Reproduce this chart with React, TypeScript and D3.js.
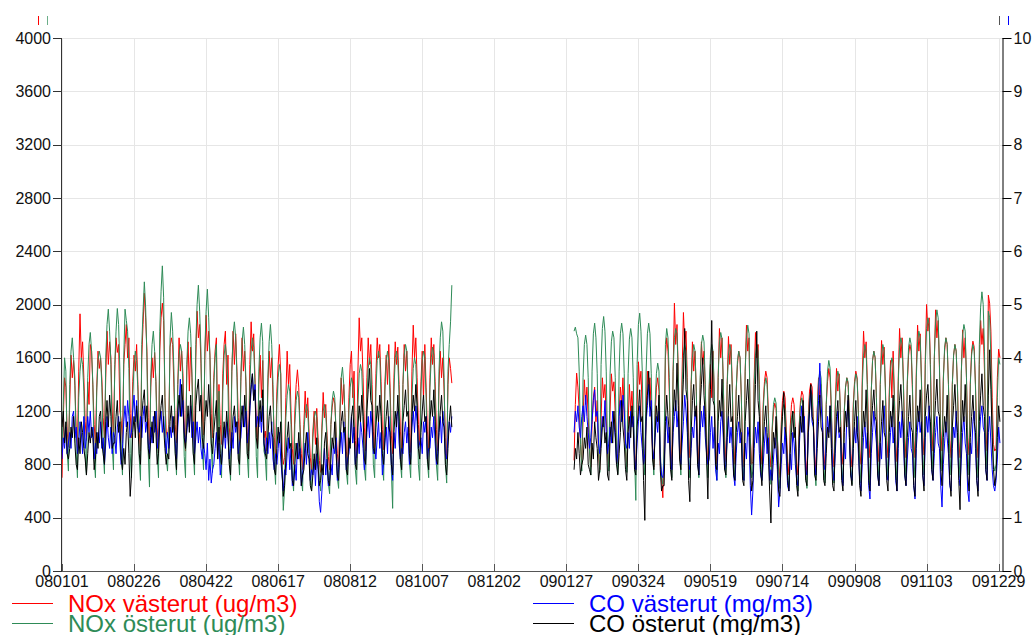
import React from "react";
import * as d3 from "d3";

// ---- axis ticks ----
const tickLabels = ["080101","080226","080422","080617","080812","081007","081202","090127","090324","090519","090714","090908","091103","091229"];
const leftTicks = [0,400,800,1200,1600,2000,2400,2800,3200,3600,4000];
const rightTicks = [0,1,2,3,4,5,6,7,8,9,10];
const domainDates = ["080101","100101"];
// daily series, two measurement periods
const segmentStarts = ["080101","090202"];

// NOx västerut (ug/m3)
const noxWestA = [
700,1150,1450,1380,1050,930,
1250,1620,1450,1580,1390,1080,920,
1500,1930,1600,1720,1450,1120,980,
1420,1250,1700,1650,1380,1100,950,
1380,1650,1520,1600,1440,1150,1000,
1450,1800,1550,1720,1600,1200,1020,
1500,1750,1640,1700,1200,1130,960,
1550,1700,1850,1600,1750,1180,1000,
1420,1620,1500,1700,1400,1050,900,
1600,1850,2085,1900,1650,1150,950,
1380,1600,1450,1640,1420,1080,880,
1650,1900,2010,1880,1300,1050,1000,
1100,1680,1750,1700,1380,1100,960,
1400,1750,1500,1650,1480,1080,900,
1500,1720,1350,1680,1450,1120,950,
1600,1950,1750,1850,1560,1200,1020,
1580,1920,1650,1800,1620,1180,1000,
1450,1650,1750,1000,1400,1100,950,
1480,1700,1800,1400,1620,1080,940,
1500,1800,1550,1780,1500,1150,960,
1420,1750,1500,1650,1380,1050,900,
1550,1870,1650,1780,1450,1100,950,
1400,1620,1300,1580,1000,1050,900,
1380,1650,1450,1600,1300,1000,850,
1350,1550,1700,1480,900,800,850,
1300,1650,1400,1550,1200,920,800,
1200,1400,1510,1380,1100,880,760,
1100,1350,1150,1300,1050,850,750,
1050,1200,950,1220,1000,830,740,
1080,1340,1150,1250,1020,860,760,
1100,1230,1300,1260,1050,880,780,
1150,1450,1250,1400,1150,900,800,
1300,1550,1650,1300,1500,980,850,
1500,1900,1650,1750,1450,1080,900,
1450,1750,1550,1700,1400,1050,900,
1480,1750,1600,1700,1420,1060,910,
1420,1620,1400,1700,1380,1020,880,
1450,1720,1550,1680,1400,1050,900,
1400,1700,1500,1650,1380,1040,890,
1500,1845,1600,1750,1450,1100,950,
1420,1650,1300,1700,1380,1050,900,
1450,1750,1550,1700,1420,1060,900,
1380,1650,1450,1600,1350,1000,850,
1400,1600,1520,1410];
const noxWestB = [
830,1250,1485,1380,1200,950,800,
1150,1435,1250,1380,1150,900,780,
1100,1300,1380,1120,1280,880,760,
1150,1450,1300,1400,1150,900,780,
1200,1480,1350,1420,1180,920,800,
1180,1380,1250,1450,1150,900,780,
1100,1400,1200,1350,1120,880,760,
1250,1570,1400,1500,1200,920,800,
1200,1500,1350,1450,1180,900,780,
1150,1380,1450,1350,800,700,550,
900,1600,1750,1650,1350,950,800,
1500,2010,1700,1850,1500,1000,850,
1500,1940,1700,1800,1450,1000,850,
1400,1720,1500,1650,1350,950,800,
1380,1720,1550,1650,1350,950,800,
1350,1550,1300,1650,1300,920,800,
1450,1820,1600,1750,1400,980,820,
1400,1760,1550,1700,1380,950,800,
1350,1550,1650,1600,1300,920,780,
1500,1845,1650,1750,1000,800,820,
1450,1790,1600,1700,1400,950,800,
1250,1420,1500,1450,1200,900,780,
1050,1200,1260,1220,1000,800,700,
1100,1280,1350,1300,1050,820,720,
1080,1250,1300,1250,1020,810,720,
1100,1280,1350,1320,1080,830,740,
1150,1350,1410,1380,1120,860,760,
1200,1450,1300,1400,1150,880,780,
1250,1420,1520,1450,1180,890,780,
1250,1520,1350,1480,1200,900,800,
1200,1380,1450,1400,1150,880,780,
1250,1420,1500,1450,1200,900,800,
1450,1800,1600,1720,1400,980,850,
1350,1580,1650,1600,1300,950,820,
1400,1730,1550,1680,1380,980,850,
1350,1580,1300,1650,1320,950,820,
1450,1820,1600,1750,1420,1000,850,
1400,1620,1700,1650,1350,980,850,
1500,1845,1650,1780,1450,1000,870,
1600,2000,1800,1900,1550,1050,900,
1580,1960,1750,1880,1520,1050,900,
1450,1650,1750,1700,1400,980,850,
1400,1620,1700,1650,1380,970,850,
1480,1810,1600,1750,1450,1000,870,
1420,1650,1725,1680,1400,980,850,
1550,1880,1700,1820,1500,1050,900,
2070,2010,1800,1300,950,900,920,
1450,1665,1600];

// NOx österut (ug/m3)
const noxEastA = [
900,1250,1600,1500,900,750,
1400,1650,1750,1600,1450,900,700,
1300,1500,1600,1550,1350,880,720,
1450,1700,1790,1650,1400,850,700,
1350,1580,1650,1600,1380,900,730,
1600,1850,1965,1800,1550,950,760,
1550,1800,1970,1850,1500,900,720,
1600,1965,1880,1800,1520,880,700,
1300,1550,1650,1580,1350,850,680,
1700,1950,2170,1980,1600,900,630,
1450,1700,1800,1650,1420,880,700,
1800,2100,2290,2050,1300,850,750,
1000,1750,1940,1800,1500,900,720,
1400,1620,1700,1650,1380,860,700,
1550,1800,1900,1780,1500,900,720,
1700,2000,2145,1950,1650,950,760,
1650,1950,2115,1900,1600,920,740,
1400,1600,1700,900,1350,850,700,
1350,1620,1700,1600,1380,840,680,
1500,1780,1870,1750,1450,900,720,
1450,1720,1830,1700,1420,870,700,
1400,1650,1750,1680,1400,860,700,
1500,1750,1860,1720,900,850,680,
1450,1720,1850,1700,1400,820,650,
1250,1450,1550,1480,800,455,620,
1150,1320,1400,1350,1100,720,600,
1100,1280,1350,1300,1050,700,600,
1050,1180,1250,1200,980,680,600,
1000,1150,1200,1150,950,680,600,
1050,1200,1250,1180,980,660,580,
1100,1280,1350,1300,1050,700,620,
1200,1450,1530,1400,1150,750,650,
1200,1380,1450,1400,1150,760,650,
1250,1480,1550,1500,1200,780,680,
1300,1520,1600,1550,1250,800,700,
1350,1580,1650,1600,1300,800,680,
1350,1580,1650,1580,1300,750,470,
1350,1600,1650,1580,1320,820,700,
1400,1620,1700,1650,1350,830,700,
1300,1520,1600,1550,1280,800,680,
1350,1580,1650,1600,1300,820,700,
1380,1600,1680,1620,1320,800,680,
1500,1750,1870,1800,1450,800,660,
1500,1700,1870,2145];
const noxEastB = [
1800,1830,1780,1750,1500,950,750,
1450,1700,1770,1700,1450,900,720,
1500,1780,1860,1750,1480,920,740,
1550,1820,1910,1800,1500,930,750,
1480,1720,1800,1750,1450,900,730,
1500,1780,1860,1780,1480,920,740,
1480,1740,1820,1750,1450,850,530,
1550,1850,1935,1800,1500,900,720,
1500,1780,1860,1780,1480,900,720,
1250,1480,1560,1500,900,700,650,
950,1700,1820,1750,1450,880,700,
1500,1750,1820,1780,1480,900,720,
1400,1620,1700,1650,1380,870,700,
1400,1600,1700,1650,1350,860,700,
1450,1700,1770,1720,1400,880,700,
1400,1620,1700,1650,1350,850,680,
1450,1720,1790,1740,1420,870,700,
1400,1620,1700,1650,1350,850,680,
1350,1580,1650,1600,1320,840,680,
1500,1750,1845,1780,1000,700,750,
1400,1620,1700,1650,1350,850,680,
1200,1380,1450,1400,1150,800,650,
1080,1250,1300,1260,1020,750,620,
1050,1200,1250,1220,1000,740,620,
1000,1150,1200,1180,980,720,600,
1080,1250,1300,1260,1030,750,620,
1100,1300,1350,1320,1080,770,640,
1200,1420,1500,1450,1180,800,660,
1250,1500,1580,1520,1220,800,660,
1200,1420,1500,1460,1180,800,660,
1180,1380,1450,1420,1150,790,650,
1200,1400,1480,1440,1170,800,660,
1380,1620,1700,1650,1350,820,645,
1350,1580,1650,1600,1300,840,680,
1400,1620,1700,1650,1350,860,700,
1300,1520,1600,1560,1280,830,680,
1420,1680,1750,1700,1400,870,700,
1420,1680,1750,1700,1400,870,700,
1450,1720,1800,1750,1420,880,720,
1550,1820,1900,1850,1500,920,740,
1600,1870,1960,1900,1550,930,750,
1420,1680,1750,1700,1400,880,720,
1400,1620,1700,1650,1380,870,700,
1500,1770,1850,1800,1450,900,720,
1400,1620,1700,1650,1380,870,700,
1700,1980,2095,2000,1650,950,760,
1950,1900,1600,1100,800,750,800,
1300,1600,1550];

// CO västerut (mg/m3)
const coWestA = [
2.1,2.5,2.3,2.7,2.2,2.4,
2.6,2.3,2.9,3.0,2.5,2.7,2.2,
2.4,2.8,2.6,2.2,2.9,2.3,2.5,
2.9,2.6,3.0,2.5,2.7,2.1,2.4,
2.2,2.6,2.4,2.8,2.3,2.5,2.0,
2.4,2.9,2.5,2.3,2.7,2.2,2.6,
2.5,2.2,2.7,2.9,2.4,2.0,2.3,
2.8,3.1,2.7,3.2,2.9,2.5,2.6,
3.0,3.3,2.8,3.2,2.7,2.6,2.9,
2.5,2.9,3.1,2.6,2.8,2.4,2.2,
2.7,2.4,2.9,2.6,3.0,2.3,2.5,
2.8,3.0,2.6,2.9,2.5,2.2,2.6,
2.3,2.7,2.5,2.9,2.6,2.4,2.1,
2.7,3.1,3.6,2.9,3.2,2.6,2.4,
2.6,2.9,2.7,3.1,2.5,2.8,2.2,
2.5,2.8,2.4,2.7,2.3,2.1,2.4,
2.2,1.9,2.4,1.7,2.1,1.65,1.9,
2.0,2.3,2.6,2.1,2.4,1.8,2.0,
2.4,2.7,2.3,2.8,2.5,2.1,2.3,
2.6,2.3,2.9,2.6,2.8,2.2,2.4,
2.5,2.9,3.1,2.7,3.0,2.4,2.6,
3.0,3.4,3.7,3.2,3.5,2.7,2.9,
2.7,3.0,2.6,3.1,2.4,2.2,2.5,
2.2,2.6,2.3,2.8,2.1,1.9,2.2,
2.0,2.3,2.6,2.1,1.8,1.5,1.9,
1.8,2.2,2.5,1.9,2.3,1.6,1.7,
2.0,1.7,2.4,2.1,2.3,1.6,1.8,
2.1,2.4,2.0,2.6,2.2,1.7,1.9,
1.8,2.1,1.6,2.2,1.9,1.3,1.1,
1.5,1.9,2.3,1.8,2.1,1.6,1.7,
2.0,1.8,2.4,2.2,2.5,1.7,1.9,
2.3,2.6,2.2,2.8,2.4,1.9,2.1,
2.2,2.5,2.9,2.4,2.7,2.0,2.2,
2.5,2.2,2.8,2.6,2.3,1.9,2.1,
2.6,2.9,2.5,3.0,2.7,2.2,2.3,
2.1,2.5,2.8,2.3,2.6,1.8,2.0,
2.4,2.7,2.2,2.9,2.5,2.0,1.7,
2.6,2.3,2.9,3.0,2.4,2.1,2.3,
2.2,2.6,2.8,2.4,2.7,2.0,2.1,
2.7,3.0,2.6,3.1,2.8,2.3,2.4,
2.5,2.2,2.8,2.6,2.9,2.1,2.3,
2.3,2.7,2.5,2.9,2.4,2.0,2.2,
2.6,2.9,2.4,3.0,2.7,2.2,2.1,
2.5,2.8,2.6,2.9];
const coWestB = [
2.6,3.0,2.8,3.1,2.7,2.5,2.9,
3.1,2.8,3.3,2.9,2.6,2.3,2.5,
2.8,3.2,3.4,2.9,3.0,2.4,2.2,
2.5,2.9,2.7,3.2,2.6,2.2,2.4,
2.7,2.4,3.0,2.8,2.5,2.0,2.2,
2.9,3.2,2.8,3.3,3.0,2.4,2.3,
2.6,2.3,3.0,2.7,2.9,2.1,1.9,
2.4,2.8,3.1,2.6,2.3,2.0,2.2,
2.8,3.1,3.5,2.9,3.2,2.3,2.1,
2.5,2.9,2.6,3.0,2.1,1.8,1.75,
2.0,2.6,2.9,2.4,2.7,2.1,1.9,
2.6,2.9,3.2,2.7,3.0,2.2,2.0,
2.4,2.8,3.3,3.0,2.6,2.0,1.9,
2.3,2.7,2.5,3.0,2.8,2.1,1.8,
2.6,3.0,2.7,3.1,2.5,2.2,2.0,
2.1,2.6,2.9,2.3,2.7,1.9,1.7,
2.4,2.2,2.8,3.0,2.5,1.9,2.0,
2.5,2.9,2.4,2.7,2.3,1.8,1.6,
2.2,2.6,2.8,2.4,2.6,1.8,1.7,
2.4,2.1,2.7,2.5,1.6,1.05,1.5,
2.3,2.7,2.4,2.8,2.2,1.8,1.7,
2.0,2.4,2.7,2.2,2.5,1.7,1.9,
1.7,2.1,2.5,2.3,1.9,1.2,1.5,
2.0,2.4,2.2,2.7,2.1,1.6,1.5,
2.2,1.9,2.6,2.4,2.0,1.7,1.6,
2.3,2.8,3.1,2.6,2.9,1.9,1.8,
2.5,3.0,3.4,2.8,2.7,2.0,1.8,
2.7,3.2,3.9,3.1,2.8,2.0,1.9,
2.4,2.9,2.6,3.1,2.5,1.9,1.7,
2.2,2.7,3.0,2.5,2.6,1.8,1.6,
2.4,2.1,2.9,3.2,2.5,1.8,1.7,
2.3,2.7,2.4,2.9,2.2,1.7,1.5,
2.0,2.5,2.8,2.3,2.6,1.6,1.35,
2.2,2.6,3.0,2.7,2.4,1.8,1.6,
2.4,2.1,2.8,3.1,2.5,1.8,1.7,
2.2,2.6,2.9,2.4,2.7,1.7,1.5,
2.3,2.8,2.5,3.0,2.4,1.8,1.6,
2.1,2.5,2.8,2.3,2.2,1.6,1.35,
2.3,2.7,3.0,2.6,2.8,1.8,1.6,
2.5,2.9,2.6,3.1,2.4,1.9,1.7,
2.2,2.6,2.9,2.4,2.3,1.6,1.2,
2.0,2.4,2.8,2.5,2.2,1.6,1.5,
2.3,2.7,2.5,3.0,2.4,1.8,1.6,
2.1,2.6,2.9,2.4,2.2,1.5,1.3,
2.4,2.2,2.8,3.0,2.3,1.7,1.5,
2.5,2.9,3.1,2.7,2.6,1.9,1.7,
2.6,2.9,2.4,1.9,1.6,1.5,1.7,
2.1,2.7,2.4];

// CO österut (mg/m3)
const coEastA = [
2.7,3.0,2.4,2.8,2.2,2.1,
2.3,2.7,2.5,2.9,2.4,2.0,1.9,
2.5,2.2,2.8,2.6,2.3,2.1,1.8,
2.2,2.6,2.4,2.7,2.5,1.9,2.1,
2.6,2.3,2.9,3.0,2.4,2.2,2.0,
2.8,3.2,2.7,3.3,2.9,2.3,2.4,
2.4,2.9,3.2,2.6,2.8,2.1,1.9,
2.3,2.0,2.6,2.8,2.2,1.4,1.8,
2.6,2.9,2.5,3.1,2.7,2.2,2.0,
2.9,3.2,3.4,2.8,3.1,2.3,2.1,
2.5,2.8,2.4,3.0,2.6,2.0,2.2,
2.8,3.1,3.3,2.7,2.3,2.0,2.2,
2.1,2.8,3.1,2.6,2.9,2.2,1.9,
3.0,3.3,2.9,3.5,3.1,2.5,2.3,
2.7,3.1,2.6,3.3,2.8,2.2,2.0,
3.1,3.4,3.6,3.0,3.3,2.5,2.3,
2.8,3.2,2.9,3.5,3.0,2.4,2.2,
2.6,2.9,3.2,2.1,2.7,2.2,2.0,
2.4,2.8,2.5,3.0,2.6,2.0,1.8,
2.5,2.9,3.1,2.7,2.8,2.1,2.0,
2.8,3.1,2.7,3.3,2.9,2.2,2.1,
3.1,3.5,3.7,3.2,3.4,2.5,2.3,
2.9,3.2,2.8,3.4,2.4,2.2,2.1,
2.5,2.9,3.1,2.6,2.5,1.9,1.8,
2.3,2.7,2.4,2.8,1.9,1.4,1.6,
2.1,2.5,2.8,2.3,2.4,1.7,1.6,
2.0,2.4,2.1,2.6,2.2,1.6,1.8,
1.9,2.3,2.6,2.2,2.1,1.6,1.5,
1.8,2.2,1.9,2.5,2.0,1.6,1.7,
2.0,1.8,2.4,2.6,2.1,1.7,1.6,
2.1,2.5,2.3,2.8,2.2,1.8,1.7,
2.4,2.8,3.0,2.6,2.7,1.9,1.8,
2.5,2.3,2.9,3.1,2.6,2.0,1.9,
2.7,3.1,2.8,3.3,2.9,2.1,2.0,
3.0,3.4,3.8,3.2,3.1,2.3,2.2,
2.7,3.1,2.8,3.3,2.9,2.2,2.0,
2.5,2.9,3.2,2.7,2.6,2.0,1.8,
2.6,3.0,2.7,3.3,2.8,2.1,1.9,
2.8,3.1,3.4,2.9,3.0,2.2,2.0,
2.9,3.3,3.0,3.5,3.1,2.3,2.1,
2.6,3.0,3.3,2.8,2.9,2.1,1.9,
2.8,3.2,2.9,3.4,2.8,2.1,2.0,
2.6,3.0,3.3,2.8,2.7,2.0,1.8,
2.3,2.8,3.1,2.7];
const coEastB = [
1.9,2.3,2.1,2.6,2.2,1.8,2.0,
2.1,2.5,2.3,2.7,2.0,1.9,1.8,
2.4,2.1,2.8,2.5,2.3,1.7,1.9,
2.3,2.7,2.9,2.4,2.6,1.8,1.7,
2.5,2.8,2.4,3.0,2.6,2.0,1.8,
2.2,2.6,3.2,2.7,2.4,1.9,1.7,
2.6,2.9,2.5,3.1,2.7,1.9,1.8,
2.7,3.0,3.4,2.8,2.9,1.7,0.95,
2.9,3.3,3.75,3.1,3.0,2.1,1.9,
2.6,3.1,2.8,3.3,1.9,1.5,1.6,
1.6,2.8,3.3,2.9,2.6,1.9,1.7,
2.9,3.4,3.0,3.9,3.1,2.1,1.9,
3.0,3.6,4.55,3.4,3.2,1.7,1.3,
2.6,3.2,3.5,2.9,3.1,2.0,1.8,
3.1,3.5,4.0,3.3,2.9,2.1,1.35,
2.7,3.4,4.7,3.2,3.1,2.0,1.9,
2.8,3.2,2.9,3.6,2.7,1.9,1.8,
2.5,3.0,3.5,2.8,2.9,1.8,1.7,
2.6,2.9,3.3,2.7,2.5,1.7,1.6,
2.8,3.2,3.6,3.0,2.0,1.5,1.7,
2.7,3.5,4.5,3.2,2.9,1.9,1.6,
2.4,2.8,3.1,2.6,2.2,1.5,0.9,
2.0,2.6,2.3,2.9,2.1,1.5,1.4,
2.4,2.9,3.35,2.7,2.5,1.7,1.5,
2.2,2.6,3.0,2.5,2.7,1.6,1.4,
2.5,2.9,2.6,3.2,2.4,1.7,1.6,
2.6,3.0,3.5,2.9,2.8,1.8,1.7,
2.3,2.8,3.3,2.7,2.6,1.7,1.6,
2.2,2.7,2.5,3.1,2.3,1.6,1.5,
2.4,2.9,3.2,2.6,2.7,1.7,1.5,
2.6,3.0,2.7,3.3,2.5,1.8,1.6,
2.3,2.8,3.2,2.6,2.4,1.6,1.4,
2.5,3.0,2.7,3.4,2.6,1.7,1.5,
2.7,3.1,3.4,2.9,2.8,1.8,1.6,
2.4,2.8,3.2,2.6,2.5,1.7,1.5,
2.6,3.0,2.7,3.3,2.5,1.8,1.5,
2.8,3.2,3.5,3.0,2.7,1.8,1.6,
2.5,2.9,3.3,2.7,2.6,1.6,1.4,
2.6,3.1,2.8,3.4,2.7,1.8,1.5,
2.9,3.3,3.5,3.0,2.8,1.9,1.7,
2.7,3.2,3.6,3.0,2.9,1.9,1.6,
2.5,2.9,2.6,3.3,2.4,1.7,1.4,
2.7,3.1,3.5,2.9,2.6,1.7,1.15,
2.6,3.2,2.8,3.5,2.7,1.8,1.5,
2.5,2.9,3.3,2.8,2.6,1.7,1.4,
2.8,3.3,3.7,3.1,2.9,1.9,1.7,
3.3,4.15,3.4,2.5,1.9,1.6,1.8,
2.5,3.1,2.8];

const seriesNames = ["NOx västerut (ug/m3)","NOx österut (ug/m3)","CO västerut (mg/m3)","CO österut (mg/m3)"];
const seriesColors = ["#ff0000","#2e8b57","#0000ff","#000000"];

const FONT = "'Liberation Sans', Arial, Helvetica, sans-serif";

export default function App() {
  const W = 1034, H = 635;
  const left = 62, right = 1002.5, top = 38, bottom = 571;
  const parse = d3.utcParse("%y%m%d");
  const x = d3.scaleUtc().domain(domainDates.map((s) => parse(s) as Date)).range([left, right]);
  const yL = d3.scaleLinear().domain([0, 4000]).range([bottom, top]);
  const yR = d3.scaleLinear().domain([0, 10]).range([bottom, top]);
  const starts = segmentStarts.map((s) => parse(s) as Date);

  const series = [
    { segs: [noxWestA, noxWestB], y: yL, color: seriesColors[0] },
    { segs: [noxEastA, noxEastB], y: yL, color: seriesColors[1] },
    { segs: [coWestA, coWestB], y: yR, color: seriesColors[2] },
    { segs: [coEastA, coEastB], y: yR, color: seriesColors[3] },
  ];

  const paths: React.ReactNode[] = [];
  series.forEach((s, si) => {
    s.segs.forEach((vals, k) => {
      const st = starts[k];
      const line = d3
        .line<number>()
        .x((_, i) => x(d3.utcDay.offset(st, i)))
        .y((d) => s.y(d));
      paths.push(
        <path key={`${si}-${k}`} d={line(vals) || ""} fill="none" stroke={s.color} strokeWidth={1} />
      );
    });
  });

  const xTicks = tickLabels.map((t) => ({ t, d: parse(t) as Date }));

  return (
    <svg width={W} height={H} style={{ position: "absolute", left: 0, top: 0, background: "#fff" }} fontFamily={FONT}>
      {/* grid */}
      <g stroke="#e6e6e6" strokeWidth={1}>
        {leftTicks.map((v) => (
          <line key={`gy${v}`} x1={left} x2={right} y1={Math.round(yL(v)) + 0.5} y2={Math.round(yL(v)) + 0.5} />
        ))}
        {xTicks.map(({ t, d }) => (
          <line key={`gx${t}`} x1={Math.round(x(d)) + 0.5} x2={Math.round(x(d)) + 0.5} y1={top} y2={bottom} />
        ))}
      </g>
      {/* data */}
      <g>{paths}</g>
      {/* x axis */}
      <line x1={left} x2={right} y1={bottom + 0.5} y2={bottom + 0.5} stroke="#555" />
      {xTicks.map(({ t, d }) => (
        <g key={`xt${t}`}>
          <line x1={Math.round(x(d)) + 0.5} x2={Math.round(x(d)) + 0.5} y1={bottom - 7} y2={bottom + 1} stroke="#555" />
          <text x={x(d)} y={587} textAnchor="middle" fontSize={16} fill="#111">{t}</text>
        </g>
      ))}
      {/* left axis */}
      <line x1={left - 0.5} x2={left - 0.5} y1={top} y2={bottom + 1} stroke="#333" />
      {leftTicks.map((v) => (
        <g key={`yl${v}`}>
          <line x1={left - 9} x2={left} y1={Math.round(yL(v)) + 0.5} y2={Math.round(yL(v)) + 0.5} stroke="#333" />
          <text x={left - 11} y={yL(v)} dy="0.35em" textAnchor="end" fontSize={16} fill="#111">{v}</text>
        </g>
      ))}
      {/* right axis */}
      <line x1={right + 0.5} x2={right + 0.5} y1={top} y2={bottom + 1} stroke="#000" />
      {rightTicks.map((v) => (
        <g key={`yr${v}`}>
          <line x1={right} x2={right + 9} y1={Math.round(yR(v)) + 0.5} y2={Math.round(yR(v)) + 0.5} stroke="#000" />
          <text x={right + 11} y={yR(v)} dy="0.35em" textAnchor="start" fontSize={16} fill="#111">{v}</text>
        </g>
      ))}
      {/* small axis markers at top */}
      <line x1={38.5} x2={38.5} y1={16} y2={25} stroke={seriesColors[0]} />
      <line x1={47.5} x2={47.5} y1={16} y2={25} stroke={seriesColors[1]} strokeOpacity={0.7} />
      <line x1={999.5} x2={999.5} y1={16} y2={25} stroke="#555" />
      <line x1={1008.5} x2={1008.5} y1={16} y2={25} stroke={seriesColors[2]} />
      {/* legend */}
      {seriesNames.map((name, i) => {
        const col = i < 2 ? 0 : 1;
        const row = i % 2;
        const lx = col === 0 ? 12 : 533;
        const ly = 603.5 + row * 20;
        return (
          <g key={name}>
            <line x1={lx} x2={lx + 41} y1={ly} y2={ly} stroke={seriesColors[i]} />
            <text x={lx + 56} y={612 + row * 20} fontSize={24} fill={seriesColors[i]}>{name}</text>
          </g>
        );
      })}
    </svg>
  );
}
